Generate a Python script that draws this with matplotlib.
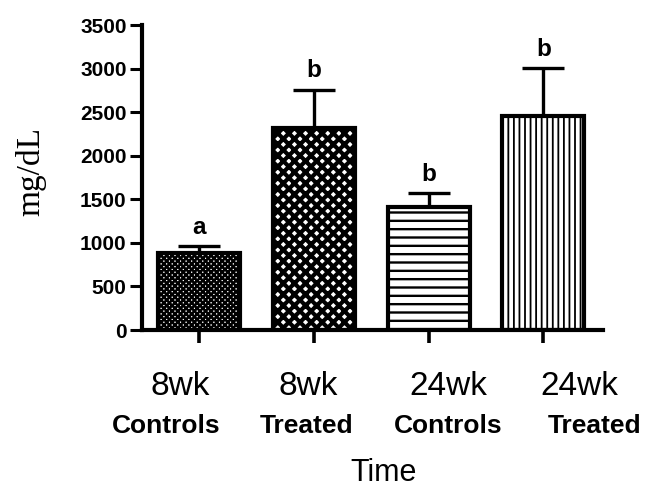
import numpy as np
import matplotlib
matplotlib.use("Agg")
import matplotlib.pyplot as plt

# data
groups = ["8wk", "8wk", "24wk", "24wk"]
subgroups = ["Controls", "Treated", "Controls", "Treated"]
means = [885, 2320, 1415, 2455]
errs = [75, 435, 155, 550]
letters = ["a", "b", "b", "b"]
yticks = [0, 500, 1000, 1500, 2000, 2500, 3000, 3500]

# fill patterns for each bar
hatches = ["xxxxxx", "xxx", "--", "|||"]
hatch_widths = [1.8, 3.0, 1.7, 1.3]

sans = "Liberation Sans"
serif = "Liberation Serif"

fig = plt.figure(figsize=(6.46, 4.90), dpi=100)
ax = fig.add_axes([0.2198, 0.3265, 0.7136, 0.6224])

x = np.arange(len(means))
width = 0.715

# hatched fills first, then black outlines on top
for i in range(len(means)):
    with plt.rc_context({"hatch.linewidth": hatch_widths[i]}):
        b = ax.bar(x[i], means[i], width, color="white", edgecolor="black",
                   hatch=hatches[i], linewidth=0, zorder=2)
    for p in b:
        if hasattr(p, "set_hatch_linewidth"):
            p.set_hatch_linewidth(hatch_widths[i])
ax.bar(x, means, width, fill=False, edgecolor="black", linewidth=3, zorder=3)

ax.errorbar(x, means, yerr=[np.zeros(len(errs)), errs], fmt="none",
            ecolor="black", elinewidth=2.4, capsize=15, capthick=2.4, zorder=1)

# significance letters
for i in range(len(means)):
    ax.annotate(letters[i], (x[i], means[i] + errs[i]), xytext=(0, 9),
                textcoords="offset points", ha="center", va="baseline",
                fontsize=17.5, fontweight="bold", family=sans)

ax.set_xlim(-0.5, 3.52)
ax.set_ylim(0, 3500)
ax.set_yticks(yticks)
ax.set_yticklabels([str(v) for v in yticks], fontsize=15,
                   fontweight="bold", family=sans)
ax.set_xticks(x)
ax.set_xticklabels([])
for s in ["top", "right"]:
    ax.spines[s].set_visible(False)
for s in ["left", "bottom"]:
    ax.spines[s].set_linewidth(3)
ax.spines["bottom"].set_zorder(4)
ax.tick_params(axis="y", length=9, width=2.2, pad=2)
ax.tick_params(axis="x", length=9, width=2.6)

# two-line category labels, hand placed like the original
top_dx = [-14, -4, 14, 26]
bot_dx = [-24, -5, 14, 37]
for i in range(len(groups)):
    ax.annotate(groups[i], (x[i], 0), xycoords=("data", "axes fraction"),
                xytext=(top_dx[i], -47), textcoords="offset points",
                ha="center", va="baseline", fontsize=24, family=sans)
    ax.annotate(subgroups[i], (x[i], 0), xycoords=("data", "axes fraction"),
                xytext=(bot_dx[i], -74), textcoords="offset points",
                ha="center", va="baseline", fontsize=19, fontweight="bold",
                family=sans)

fig.text(384 / 646, 1 - 481 / 490, "Time", ha="center", va="baseline",
         fontsize=22, family=sans)
fig.text(31 / 646, 1 - 172 / 490, "mg/dL", ha="center", va="center",
         rotation=90, fontsize=24, family=serif)

fig.savefig("out.png", dpi=100)
